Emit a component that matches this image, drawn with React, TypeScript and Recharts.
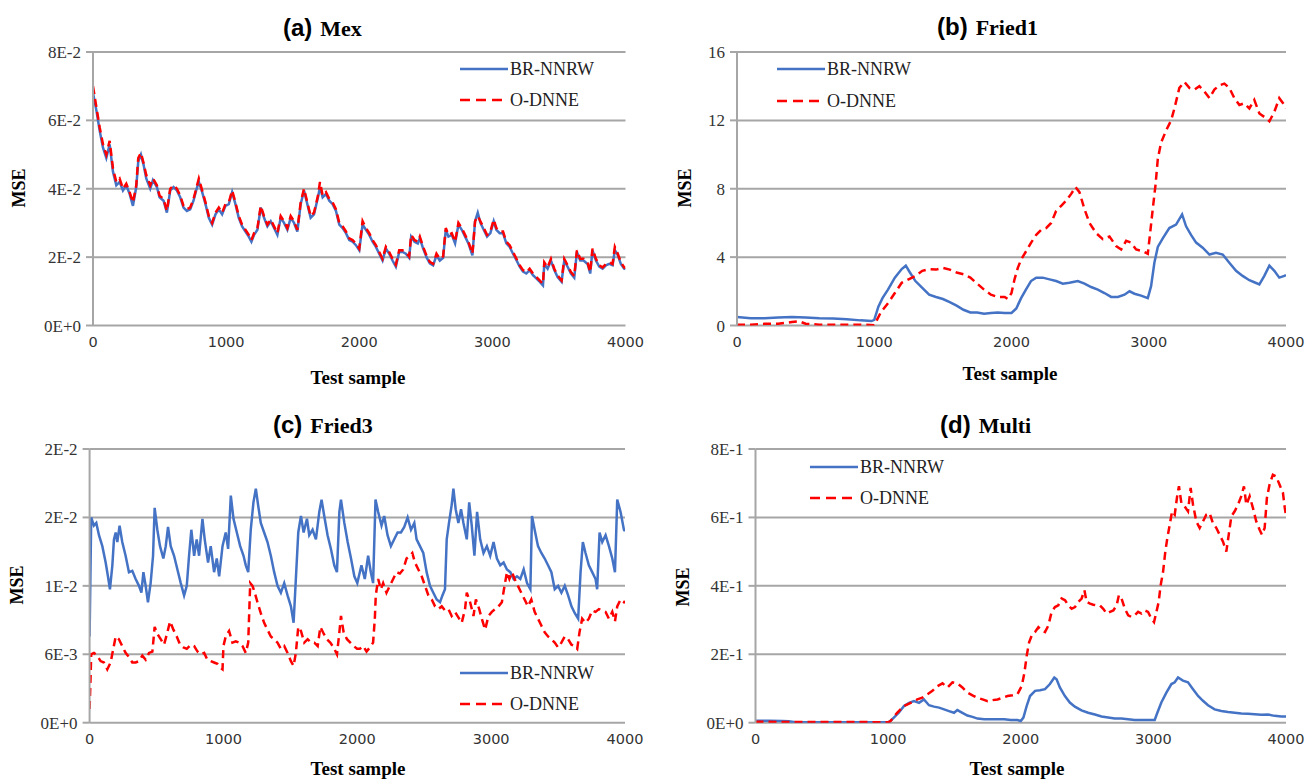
import React from "react";
import { CartesianGrid, Line, LineChart, XAxis, YAxis } from "recharts";

const sampleTicks = [0, 1000, 2000, 3000, 4000];

// (a) Mex
const mexTicks = [0, 0.02, 0.04, 0.06, 0.08];
const mexTickLabels = ["0E+0", "2E-2", "4E-2", "6E-2", "8E-2"];
const mexBlue: [number, number][] = [
  [0, .068], [25, .063], [50, .057], [75, .052], [100, .049], [125, .053], [150, .045], [175, .041], [200, .042], [225, .0395],
  [250, .041], [275, .0385], [300, .035], [325, .0405], [340, .048], [360, .050], [380, .047], [400, .043], [430, .040], [450, .0425],
  [480, .0405], [500, .0375], [530, .0365], [555, .033], [580, .0395], [605, .0405], [630, .0395], [655, .0375], [680, .0345], [705, .0335],
  [730, .034], [755, .0365], [775, .0395], [795, .042], [820, .039], [845, .0355], [870, .0315], [895, .0295], [920, .0325], [945, .034],
  [970, .0325], [995, .035], [1020, .0355], [1045, .039], [1070, .0355], [1095, .0315], [1120, .029], [1145, .0275], [1170, .026], [1190, .0245],
  [1210, .0265], [1235, .028], [1260, .0345], [1285, .0315], [1310, .029], [1335, .0305], [1360, .0285], [1385, .0265], [1410, .0315], [1435, .030],
  [1460, .028], [1485, .0315], [1510, .030], [1535, .0275], [1560, .0355], [1585, .0395], [1610, .0355], [1635, .0315], [1660, .0325], [1690, .0375],
  [1705, .0405], [1725, .0375], [1750, .0385], [1775, .0365], [1800, .0355], [1825, .0335], [1850, .0295], [1875, .0285], [1900, .027], [1925, .025],
  [1950, .0245], [1975, .0235], [2000, .022], [2025, .0295], [2050, .028], [2075, .0265], [2100, .0245], [2125, .023], [2150, .021], [2175, .019],
  [2200, .0225], [2225, .021], [2250, .019], [2275, .0172], [2300, .0215], [2325, .0215], [2350, .021], [2375, .0198], [2390, .026], [2415, .0245],
  [2440, .024], [2455, .0255], [2480, .0225], [2505, .020], [2530, .0182], [2555, .0176], [2580, .0205], [2605, .019], [2630, .0198], [2650, .028],
  [2670, .026], [2695, .0265], [2720, .024], [2745, .0295], [2770, .028], [2795, .026], [2820, .024], [2850, .0205], [2870, .0305], [2890, .033],
  [2910, .030], [2935, .028], [2960, .026], [2985, .027], [3010, .0305], [3030, .028], [3055, .027], [3080, .027], [3105, .024], [3130, .023],
  [3155, .021], [3180, .0192], [3205, .0172], [3230, .0158], [3255, .0152], [3280, .0162], [3305, .0147], [3330, .0138], [3355, .0128], [3380, .0117],
  [3390, .018], [3415, .0166], [3440, .019], [3465, .0162], [3490, .0142], [3520, .0128], [3540, .019], [3565, .0172], [3590, .0152], [3615, .014],
  [3635, .0215], [3660, .019], [3685, .019], [3715, .018], [3735, .0152], [3752, .022], [3778, .019], [3803, .0172], [3828, .0166], [3853, .0176],
  [3878, .018], [3903, .0176], [3920, .022], [3940, .0208], [3965, .018], [3990, .0166], [4000, .0165],
];
const mexRed: [number, number][] = [
  [0, .070], [25, .064], [50, .058], [75, .053], [100, .050], [125, .054], [150, .046], [175, .042], [200, .043], [225, .040],
  [250, .0415], [275, .039], [300, .036], [325, .041], [340, .049], [360, .0505], [380, .0475], [400, .044], [430, .041], [450, .043],
  [480, .041], [500, .038], [530, .037], [555, .0335], [580, .040], [605, .041], [630, .040], [655, .038], [680, .035], [705, .034],
  [730, .0345], [755, .037], [775, .040], [795, .043], [820, .0395], [845, .036], [870, .032], [895, .030], [920, .033], [945, .0345],
  [970, .033], [995, .0355], [1020, .036], [1045, .0395], [1070, .036], [1095, .032], [1120, .0295], [1145, .028], [1170, .0265], [1190, .025],
  [1210, .027], [1235, .0285], [1260, .035], [1285, .032], [1310, .0295], [1335, .031], [1360, .029], [1385, .027], [1410, .032], [1435, .0305],
  [1460, .0285], [1485, .032], [1510, .0305], [1535, .028], [1560, .036], [1585, .040], [1610, .036], [1635, .032], [1660, .033], [1690, .038],
  [1705, .042], [1725, .038], [1750, .039], [1775, .037], [1800, .036], [1825, .034], [1850, .030], [1875, .029], [1900, .0275], [1925, .0255],
  [1950, .025], [1975, .024], [2000, .0225], [2025, .0305], [2050, .0285], [2075, .027], [2100, .025], [2125, .0235], [2150, .0215], [2175, .0195],
  [2200, .023], [2225, .0215], [2250, .0195], [2275, .0178], [2300, .022], [2325, .022], [2350, .0215], [2375, .0202], [2390, .0265], [2415, .025],
  [2440, .0245], [2455, .026], [2480, .023], [2505, .0205], [2530, .0186], [2555, .018], [2580, .021], [2605, .0195], [2630, .0202], [2650, .0285],
  [2670, .0265], [2695, .027], [2720, .0245], [2745, .030], [2770, .0285], [2795, .0265], [2820, .0245], [2850, .021], [2870, .0305], [2890, .032],
  [2910, .0305], [2935, .0285], [2960, .0265], [2985, .0275], [3010, .031], [3030, .0285], [3055, .0275], [3080, .0275], [3105, .0245], [3130, .0235],
  [3155, .0215], [3180, .0196], [3205, .0176], [3230, .0162], [3255, .0156], [3280, .0166], [3305, .0152], [3330, .0142], [3355, .0132], [3380, .0122],
  [3390, .0185], [3415, .017], [3440, .0195], [3465, .0166], [3490, .0146], [3520, .0132], [3540, .0195], [3565, .0176], [3590, .0156], [3615, .0145],
  [3635, .022], [3660, .0195], [3685, .0195], [3715, .0185], [3735, .0156], [3752, .0225], [3778, .0195], [3803, .0176], [3828, .017], [3853, .018],
  [3878, .0185], [3903, .018], [3920, .023], [3940, .0212], [3965, .0185], [3990, .017], [4000, .017],
];

// (b) Fried1
const fried1Ticks = [0, 4, 8, 12, 16];
const fried1TickLabels = ["0", "4", "8", "12", "16"];
const fried1Blue: [number, number][] = [
  [0, 0.5], [100, 0.43], [200, 0.43], [300, 0.47], [400, 0.5], [500, 0.47], [600, 0.43], [700, 0.41], [800, 0.37], [900, 0.3],
  [980, 0.26], [1000, 0.33], [1030, 1.1], [1060, 1.6], [1100, 2.1], [1150, 2.8], [1200, 3.3], [1230, 3.5], [1260, 3.1], [1300, 2.6],
  [1350, 2.2], [1400, 1.8], [1450, 1.67], [1500, 1.55], [1550, 1.37], [1600, 1.16], [1650, 0.92], [1700, 0.76], [1750, 0.76], [1800, 0.69],
  [1850, 0.73], [1900, 0.76], [1950, 0.73], [2000, 0.73], [2035, 1.0], [2070, 1.6], [2105, 2.1], [2142, 2.6], [2180, 2.8], [2228, 2.8],
  [2277, 2.7], [2325, 2.6], [2374, 2.45], [2422, 2.5], [2483, 2.6], [2532, 2.45], [2580, 2.25], [2629, 2.1], [2677, 1.9], [2726, 1.67],
  [2775, 1.67], [2823, 1.8], [2860, 2.0], [2896, 1.86], [2944, 1.75], [2993, 1.6], [3017, 2.3], [3041, 3.67], [3066, 4.6], [3102, 5.1],
  [3150, 5.7], [3199, 5.9], [3243, 6.5], [3272, 5.8], [3308, 5.3], [3345, 4.85], [3393, 4.55], [3442, 4.15], [3490, 4.25], [3539, 4.15],
  [3587, 3.67], [3636, 3.2], [3684, 2.9], [3733, 2.65], [3769, 2.53], [3806, 2.4], [3842, 2.9], [3879, 3.5], [3915, 3.2], [3951, 2.8],
  [3988, 2.9], [4000, 2.95],
];
const fried1Red: [number, number][] = [
  [0, 0.05], [100, 0.05], [200, 0.1], [300, 0.1], [400, 0.2], [450, 0.25], [500, 0.1], [600, 0.05], [700, 0.05], [800, 0.05],
  [900, 0.05], [1000, 0.02], [1050, 0.8], [1100, 1.3], [1150, 1.9], [1200, 2.5], [1250, 2.7], [1300, 2.9], [1350, 3.2], [1400, 3.3],
  [1450, 3.27], [1500, 3.37], [1550, 3.27], [1600, 3.1], [1650, 3.0], [1700, 2.8], [1750, 2.45], [1800, 2.1], [1850, 1.8], [1900, 1.67],
  [1950, 1.67], [1973, 1.55], [2000, 1.9], [2022, 2.7], [2046, 3.37], [2070, 3.86], [2107, 4.35], [2143, 4.85], [2180, 5.3], [2216, 5.6],
  [2252, 5.7], [2289, 6.0], [2325, 6.7], [2362, 7.0], [2398, 7.3], [2435, 7.7], [2466, 8.1], [2495, 7.8], [2532, 6.8], [2568, 6.0],
  [2617, 5.4], [2665, 5.05], [2714, 5.2], [2762, 4.65], [2799, 4.45], [2835, 4.95], [2871, 4.85], [2908, 4.45], [2956, 4.35], [2993, 4.2],
  [3010, 5.4], [3029, 6.8], [3049, 8.2], [3066, 9.75], [3090, 10.7], [3126, 11.4], [3163, 12.0], [3187, 12.7], [3223, 13.9], [3260, 14.25],
  [3296, 13.9], [3333, 13.8], [3369, 14.0], [3405, 13.7], [3442, 13.3], [3478, 13.8], [3515, 14.05], [3551, 14.15], [3587, 13.9], [3624, 13.3],
  [3660, 12.9], [3696, 13.0], [3733, 12.7], [3769, 13.2], [3806, 12.4], [3842, 12.2], [3879, 11.95], [3915, 12.5], [3951, 13.3], [3988, 12.9],
  [4000, 12.7],
];

// (c) Fried3
const fried3Ticks = [0, 0.005, 0.01, 0.015, 0.02];
const fried3TickLabels = ["0E+0", "6E-3", "1E-2", "2E-2", "2E-2"];
const fried3Blue: [number, number][] = [
  [0, .0063], [12, .0150], [32, .0144], [50, .0146], [70, .0137], [95, .0129], [120, .0117], [137, .0107], [152, .00975], [170, .0115],
  [182, .0134], [195, .0139], [207, .0132], [224, .0144], [244, .0132], [269, .0122], [294, .0110], [319, .0111], [344, .0105], [369, .0100],
  [387, .0095], [402, .0110], [419, .0100], [436, .0088], [456, .0102], [474, .0122], [486, .0157], [506, .0141], [526, .0129], [551, .0120],
  [569, .0129], [586, .0143], [606, .0129], [631, .0122], [656, .0112], [681, .0102], [706, .0093], [726, .0100], [743, .0122], [760, .0141],
  [781, .0122], [800, .0134], [818, .0122], [843, .0149], [860, .0134], [885, .0117], [905, .0129], [930, .0110], [950, .0120], [968, .0107],
  [993, .0129], [1017, .0139], [1035, .0127], [1055, .0166], [1075, .0149], [1100, .0139], [1125, .0129], [1150, .0122], [1167, .0115], [1185, .0110],
  [1204, .0141], [1224, .0161], [1242, .0171], [1259, .0159], [1279, .0146], [1304, .0139], [1329, .0132], [1354, .0122], [1379, .0110], [1404, .0100],
  [1429, .0095], [1454, .0102], [1479, .0093], [1504, .0085], [1524, .0073], [1541, .0105], [1559, .0139], [1579, .0151], [1599, .0139], [1624, .0149],
  [1641, .0137], [1666, .0141], [1691, .0134], [1716, .0154], [1733, .0163], [1753, .0151], [1778, .0137], [1803, .0127], [1828, .0115], [1848, .0110],
  [1866, .0154], [1878, .0163], [1903, .0146], [1928, .0132], [1953, .0120], [1978, .0107], [2000, .0102], [2031, .0115], [2056, .0105], [2081, .0122],
  [2101, .0110], [2118, .0102], [2136, .0163], [2156, .0154], [2181, .0144], [2201, .0151], [2226, .0137], [2251, .0129], [2276, .0134], [2301, .0139],
  [2326, .0139], [2351, .0143], [2376, .0150], [2401, .0141], [2426, .0146], [2443, .0134], [2468, .0129], [2493, .0124], [2518, .0110], [2543, .0100],
  [2568, .0095], [2593, .0090], [2618, .0088], [2636, .0093], [2655, .00975], [2668, .0134], [2685, .0146], [2705, .0159], [2718, .0171], [2735, .0156],
  [2755, .0146], [2775, .0156], [2793, .0146], [2818, .0134], [2836, .0161], [2855, .0144], [2875, .0122], [2895, .0154], [2918, .0134], [2943, .0124],
  [2968, .0129], [2993, .0122], [3018, .0132], [3043, .0120], [3068, .0115], [3093, .0117], [3118, .0112], [3143, .0110], [3168, .0105], [3193, .0107],
  [3218, .0105], [3243, .0112], [3268, .0102], [3293, .00975], [3305, .0151], [3325, .0141], [3350, .0129], [3375, .0124], [3400, .0120], [3425, .0115],
  [3450, .0110], [3475, .00975], [3500, .0100], [3525, .0095], [3550, .0100], [3575, .0093], [3600, .0085], [3625, .0080], [3650, .0076], [3668, .0110],
  [3685, .0132], [3705, .0124], [3730, .0115], [3755, .0110], [3780, .0105], [3792, .00975], [3810, .0139], [3830, .0132], [3855, .0137], [3880, .0129],
  [3905, .0120], [3925, .0110], [3942, .0163], [3967, .0154], [3992, .0141], [4000, .0140],
];
const fried3Red: [number, number][] = [
  [0, .0010], [7, .0032], [12, .0050], [32, .0051], [57, .0049], [82, .0045], [107, .0044], [132, .0039], [157, .0044], [177, .0054],
  [195, .0063], [219, .0061], [244, .0056], [269, .0051], [294, .0048], [319, .0044], [344, .0044], [369, .0045], [394, .0049], [419, .0046],
  [444, .0051], [469, .0052], [486, .0070], [506, .0065], [531, .0061], [556, .0057], [581, .0066], [601, .0074], [626, .0068], [651, .0063],
  [676, .0057], [701, .0055], [726, .0054], [756, .0057], [781, .0056], [806, .0052], [831, .0050], [856, .0051], [880, .0046], [905, .0045],
  [930, .0044], [955, .0043], [980, .0040], [993, .0039], [1000, .0056], [1017, .0063], [1042, .0067], [1067, .00585], [1092, .00595], [1117, .00585],
  [1142, .0056], [1167, .0051], [1185, .00585], [1200, .0102], [1217, .0100], [1234, .0095], [1254, .0088], [1279, .0080], [1304, .0073], [1329, .0068],
  [1354, .0063], [1379, .0061], [1404, .00585], [1429, .0054], [1454, .0056], [1479, .0051], [1504, .0045], [1524, .00415], [1541, .0051], [1559, .0070],
  [1579, .0067], [1604, .00585], [1629, .0061], [1654, .00585], [1679, .00585], [1704, .0056], [1724, .0070], [1749, .0065], [1773, .0061], [1798, .00585],
  [1823, .0055], [1848, .0050], [1866, .0066], [1878, .0078], [1898, .0066], [1923, .0061], [1948, .00585], [1973, .0056], [1998, .0054], [2019, .0054],
  [2044, .0056], [2069, .0052], [2094, .0055], [2118, .00585], [2131, .0076], [2138, .0093], [2156, .0105], [2176, .00975], [2193, .0102], [2218, .0095],
  [2243, .0100], [2268, .0105], [2293, .0110], [2318, .0109], [2343, .0112], [2368, .0120], [2393, .0122], [2411, .0124], [2431, .0117], [2456, .0112],
  [2481, .0107], [2506, .0100], [2531, .0093], [2556, .0090], [2581, .0085], [2606, .0083], [2631, .0085], [2656, .0082], [2681, .0083], [2705, .0078],
  [2730, .0081], [2755, .0077], [2780, .0073], [2805, .0083], [2818, .0095], [2843, .0088], [2868, .0078], [2886, .0090], [2911, .0083], [2930, .0076],
  [2955, .0068], [2980, .0078], [3005, .0081], [3030, .0083], [3055, .0085], [3080, .0088], [3100, .0100], [3118, .0110], [3136, .0105], [3156, .0110],
  [3175, .0105], [3200, .0100], [3225, .0095], [3250, .0090], [3275, .0085], [3300, .0090], [3325, .0081], [3350, .0076], [3375, .0071], [3400, .0066],
  [3425, .0063], [3450, .0061], [3475, .00585], [3500, .0055], [3525, .00585], [3550, .0063], [3575, .0061], [3600, .0057], [3625, .0056], [3643, .0054],
  [3660, .0066], [3680, .0076], [3705, .0073], [3730, .0076], [3755, .0082], [3780, .0081], [3805, .0083], [3830, .0082], [3855, .0081], [3880, .0076],
  [3905, .0081], [3925, .0074], [3942, .0085], [3967, .0090], [3992, .0088], [4000, .0089],
];

// (d) Multi
const multiTicks = [0, 0.2, 0.4, 0.6, 0.8];
const multiTickLabels = ["0E+0", "2E-1", "4E-1", "6E-1", "8E-1"];
const multiBlue: [number, number][] = [
  [0, .006], [100, .006], [200, .005], [250, .004], [300, .001], [500, .001], [800, .001], [1000, .001], [1018, .005], [1043, .015],
  [1080, .029], [1120, .049], [1158, .058], [1195, .063], [1233, .058], [1270, .068], [1308, .051], [1346, .047], [1384, .044], [1422, .039],
  [1459, .034], [1497, .029], [1522, .037], [1560, .029], [1598, .021], [1636, .017], [1674, .012], [1724, .010], [1774, .010], [1825, .010],
  [1875, .010], [1925, .008], [1975, .008], [2000, .005], [2020, .015], [2045, .049], [2070, .078], [2108, .093], [2145, .095], [2183, .098],
  [2220, .113], [2253, .132], [2270, .127], [2295, .103], [2333, .078], [2370, .059], [2408, .047], [2458, .036], [2508, .029], [2559, .024],
  [2609, .018], [2659, .015], [2709, .012], [2759, .012], [2809, .010], [2859, .008], [2910, .008], [2960, .008], [3010, .008], [3030, .029],
  [3060, .059], [3098, .088], [3136, .113], [3161, .118], [3186, .132], [3223, .123], [3261, .118], [3299, .098], [3337, .078], [3374, .064],
  [3412, .051], [3462, .039], [3512, .034], [3563, .031], [3613, .029], [3663, .027], [3713, .026], [3764, .025], [3814, .023], [3864, .024],
  [3915, .020], [3965, .018], [4000, .018],
];
const multiRed: [number, number][] = [
  [0, .003], [200, .002], [500, .002], [800, .002], [1000, .001], [1018, .005], [1068, .029], [1120, .049], [1170, .058], [1220, .068],
  [1258, .073], [1296, .083], [1334, .093], [1372, .107], [1410, .115], [1447, .103], [1485, .118], [1522, .115], [1560, .103], [1598, .088],
  [1636, .080], [1674, .073], [1712, .068], [1750, .063], [1788, .066], [1825, .068], [1863, .073], [1900, .078], [1938, .080], [1975, .083],
  [2008, .108], [2028, .147], [2045, .196], [2063, .235], [2083, .255], [2108, .265], [2133, .279], [2158, .270], [2183, .265], [2208, .284],
  [2233, .324], [2258, .338], [2283, .343], [2308, .363], [2334, .358], [2359, .343], [2384, .333], [2409, .338], [2434, .353], [2459, .363],
  [2480, .387], [2497, .353], [2522, .348], [2547, .345], [2572, .343], [2597, .343], [2622, .333], [2648, .319], [2673, .324], [2698, .328],
  [2723, .343], [2740, .373], [2760, .363], [2785, .333], [2810, .314], [2835, .309], [2860, .314], [2885, .324], [2910, .319], [2935, .328],
  [2960, .324], [2985, .304], [3005, .294], [3023, .324], [3040, .353], [3055, .402], [3073, .441], [3090, .500], [3105, .539], [3123, .578],
  [3141, .618], [3161, .608], [3181, .667], [3193, .691], [3211, .642], [3236, .632], [3261, .618], [3281, .686], [3299, .637], [3324, .588],
  [3349, .569], [3374, .588], [3399, .608], [3424, .613], [3449, .583], [3475, .569], [3500, .549], [3525, .529], [3550, .500], [3568, .549],
  [3588, .603], [3613, .618], [3638, .637], [3663, .662], [3683, .691], [3701, .637], [3726, .662], [3751, .627], [3776, .588], [3801, .564],
  [3819, .549], [3839, .569], [3856, .657], [3876, .696], [3901, .725], [3926, .720], [3951, .696], [3977, .672], [3990, .630], [4000, .605],
];

const GRID = "#A6A6A6";
const BLUE = "#4472C4";
const RED = "#FF0000";
const SERIF = '"Liberation Serif", "DejaVu Serif", serif';
const SANS = '"Liberation Sans", Arial, sans-serif';
const TICK_SANS = '"DejaVu Sans", sans-serif';

type Margin = { top: number; right: number; bottom: number; left: number };

interface PanelProps {
  left: number;
  top: number;
  width: number;
  height: number;
  margin: Margin;
  yTicks: number[];
  yLabels: string[];
  blue: [number, number][];
  red: [number, number][];
}

const Panel = ({ left, top, width, height, margin, yTicks, yLabels, blue, red }: PanelProps) => {
  const blueData = blue.map(([x, y]) => ({ x, y }));
  const redData = red.map(([x, y]) => ({ x, y }));
  return (
    <div style={{ position: "absolute", left, top }}>
      <LineChart width={width} height={height} margin={margin}>
        <CartesianGrid vertical={false} stroke={GRID} strokeWidth={2} />
        <XAxis
          type="number"
          dataKey="x"
          domain={[0, 4000]}
          ticks={sampleTicks}
          interval={0}
          height={40}
          tickLine={false}
          axisLine={false}
          tickSize={6}
          tickMargin={5}
          tick={{ fill: "#333", fontSize: 14.5, fontFamily: TICK_SANS }}
          allowDataOverflow
        />
        <YAxis
          type="number"
          domain={[yTicks[0], yTicks[yTicks.length - 1]]}
          ticks={yTicks}
          interval={0}
          width={60}
          tickFormatter={(v: number, i: number) => yLabels[i]}
          tickLine={{ stroke: GRID, strokeWidth: 2 }}
          axisLine={{ stroke: GRID, strokeWidth: 2 }}
          tickSize={7}
          tickMargin={5}
          tick={{ fill: "#333", fontSize: 17, fontFamily: SERIF }}
          allowDataOverflow
        />
        <Line data={blueData} dataKey="y" type="linear" stroke={BLUE} strokeWidth={2.5} dot={false} isAnimationActive={false} />
        <Line data={redData} dataKey="y" type="linear" stroke={RED} strokeWidth={2.5} strokeDasharray="8 5" dot={false} isAnimationActive={false} />
      </LineChart>
    </div>
  );
};

const Title = ({ x, y, tag, name }: { x: number; y: number; tag: string; name: string }) => (
  <div style={{ position: "absolute", left: x, top: y - 15, height: 30, lineHeight: "30px", whiteSpace: "nowrap", color: "#000" }}>
    <span style={{ fontFamily: SANS, fontWeight: 700, fontSize: 24 }}>{tag}</span>
    <span style={{ fontFamily: SERIF, fontWeight: 700, fontSize: 22, marginLeft: 8 }}>{name}</span>
  </div>
);

const Centered = ({ x, y, text, rotate, size }: { x: number; y: number; text: string; rotate?: boolean; size: number }) => (
  <div
    style={{
      position: "absolute",
      left: x,
      top: y,
      transform: `translate(-50%, -50%)${rotate ? " rotate(-90deg)" : ""}`,
      fontFamily: SERIF,
      fontWeight: 700,
      fontSize: size,
      lineHeight: 1,
      whiteSpace: "nowrap",
      color: "#000",
    }}
  >
    {text}
  </div>
);

const LegendBox = ({ x, y1, y2 }: { x: number; y1: number; y2: number }) => {
  const rows = [
    { label: "BR-NNRW", color: BLUE, dash: undefined as string | undefined, y: y1 },
    { label: "O-DNNE", color: RED, dash: "10 6", y: y2 },
  ];
  return (
    <>
      {rows.map((r) => (
        <div key={r.label} style={{ position: "absolute", left: x, top: r.y - 11, height: 22, display: "flex", alignItems: "center" }}>
          <svg width={48} height={6}>
            <line x1={0} y1={3} x2={48} y2={3} stroke={r.color} strokeWidth={2.5} strokeDasharray={r.dash} />
          </svg>
          <span style={{ fontFamily: SERIF, fontSize: 18, color: "#222", marginLeft: 2, lineHeight: "22px" }}>{r.label}</span>
        </div>
      ))}
    </>
  );
};

export default function App() {
  return (
    <div style={{ position: "absolute", left: 0, top: 0, width: 1307, height: 781, overflow: "hidden", background: "#fff" }}>
      <Panel left={0} top={0} width={650} height={390} margin={{ top: 52, right: 24.5, bottom: 24.5, left: 33 }}
        yTicks={mexTicks} yLabels={mexTickLabels} blue={mexBlue} red={mexRed} />
      <Panel left={650} top={0} width={657} height={390} margin={{ top: 52, right: 21, bottom: 24.5, left: 27 }}
        yTicks={fried1Ticks} yLabels={fried1TickLabels} blue={fried1Blue} red={fried1Red} />
      <Panel left={0} top={390} width={650} height={391} margin={{ top: 59, right: 25, bottom: 18.3, left: 29.6 }}
        yTicks={fried3Ticks} yLabels={fried3TickLabels} blue={fried3Blue} red={fried3Red} />
      <Panel left={650} top={390} width={657} height={391} margin={{ top: 59, right: 21, bottom: 18.3, left: 45.5 }}
        yTicks={multiTicks} yLabels={multiTickLabels} blue={multiBlue} red={multiRed} />

      <Title x={283} y={28} tag="(a)" name="Mex" />
      <Title x={937} y={27} tag="(b)" name="Fried1" />
      <Title x={273} y={425} tag="(c)" name="Fried3" />
      <Title x={940} y={425} tag="(d)" name="Multi" />

      <Centered x={19} y={188} text="MSE" rotate size={18} />
      <Centered x={685} y={188} text="MSE" rotate size={18} />
      <Centered x={17} y={585} text="MSE" rotate size={18} />
      <Centered x={683} y={587} text="MSE" rotate size={18} />

      <Centered x={358} y={377} text="Test sample" size={19} />
      <Centered x={1010} y={373} text="Test sample" size={19} />
      <Centered x={358} y={768} text="Test sample" size={19} />
      <Centered x={1017} y={768} text="Test sample" size={19} />

      <LegendBox x={460} y1={69} y2={100} />
      <LegendBox x={777} y1={69} y2={101} />
      <LegendBox x={460} y1={673} y2={704} />
      <LegendBox x={810} y1={467} y2={498} />
    </div>
  );
}
